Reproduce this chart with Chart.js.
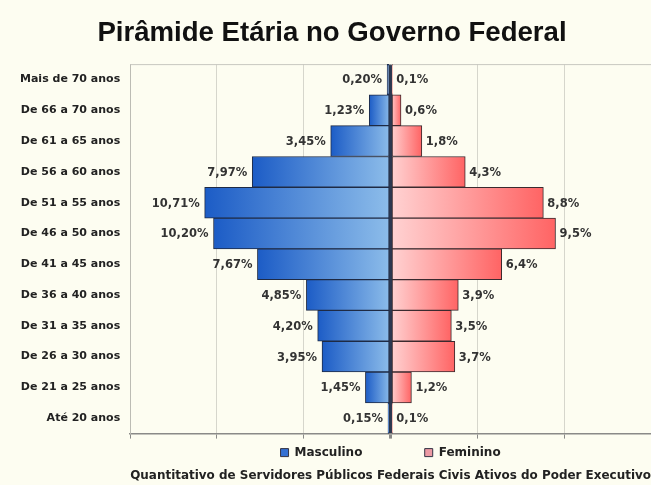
<!DOCTYPE html>
<html>
<head>
<meta charset="utf-8">
<script src="https://cdn.jsdelivr.net/npm/chart.js@4"></script>
<style>
  html, body { margin: 0; padding: 0; background: #fdfdf1; }
  #wrap { width: 651px; height: 485px; }
</style>
</head>
<body>
<div id="wrap"><canvas id="pyramid" width="651" height="485"></canvas></div>
<script>
var faixas = ["Mais de 70 anos", "De 66 a 70 anos", "De 61 a 65 anos", "De 56 a 60 anos",
  "De 51 a 55 anos", "De 46 a 50 anos", "De 41 a 45 anos", "De 36 a 40 anos",
  "De 31 a 35 anos", "De 26 a 30 anos", "De 21 a 25 anos", "Até 20 anos"];
var masculino = [0.20, 1.23, 3.45, 7.97, 10.71, 10.20, 7.67, 4.85, 4.20, 3.95, 1.45, 0.15];
var feminino = [0.1, 0.6, 1.8, 4.3, 8.8, 9.5, 6.4, 3.9, 3.5, 3.7, 1.2, 0.1];
var xTicks = [-15, -10, -5, 0, 5, 10, 15];

var fontName = "'DejaVu Sans', Verdana, sans-serif";
var legendBox = ['#3470d2', '#ec9aa4'];

// gradient per bar: dark at the outer end, light next to the centre
function barFill(outer, inner, flat) {
  return function (ctx) {
    if (ctx.type !== 'data') return flat;
    var xs = ctx.chart.scales.x;
    if (!xs || !isFinite(xs.getPixelForValue(0))) return flat;
    var x0 = xs.getPixelForValue(0);
    var x1 = xs.getPixelForValue(ctx.raw);
    if (Math.abs(x1 - x0) < 1) return flat;
    var g = ctx.chart.ctx.createLinearGradient(x1, 0, x0, 0);
    g.addColorStop(0, outer);
    g.addColorStop(1, inner);
    return g;
  };
}

// frame line on top of the plot
var topFrame = {
  id: 'topFrame',
  beforeDatasetsDraw: function (chart) {
    var a = chart.chartArea, c = chart.ctx;
    c.save();
    c.strokeStyle = '#c8c8c0';
    c.lineWidth = 1;
    c.beginPath();
    c.moveTo(a.left, a.top + 0.5);
    c.lineTo(a.right, a.top + 0.5);
    c.stroke();
    c.restore();
  }
};

// percentage labels at the end of each bar
var valueLabels = {
  id: 'valueLabels',
  afterDatasetsDraw: function (chart) {
    var c = chart.ctx;
    c.save();
    c.font = 'bold 11.5px ' + fontName;
    c.fillStyle = '#333333';
    c.textBaseline = 'middle';
    chart.data.datasets.forEach(function (ds, i) {
      var meta = chart.getDatasetMeta(i);
      meta.data.forEach(function (bar, j) {
        var v = Math.abs(ds.data[j]);
        if (i === 0) {
          c.textAlign = 'right';
          c.fillText(v.toFixed(2).replace('.', ',') + '%', bar.x - 5, bar.y + 1);
        } else {
          c.textAlign = 'left';
          c.fillText(v.toFixed(1).replace('.', ',') + '%', bar.x + 4, bar.y + 1);
        }
      });
    });
    c.restore();
  }
};

new Chart(document.getElementById("pyramid"), {
  type: 'bar',
  data: {
    labels: faixas,
    datasets: [{
      label: "Masculino",
      data: masculino.map(function (v) { return -v; }),
      backgroundColor: barFill('#1c5cc6', '#8dbdea', '#2e6fd0'),
      borderColor: '#1e2a44',
      borderWidth: 1,
      borderSkipped: false,
      barPercentage: 1,
      categoryPercentage: 1
    }, {
      label: "Feminino",
      data: feminino,
      backgroundColor: barFill('#ff6464', '#ffd3d3', '#f4a0a8'),
      borderColor: '#3a2a2e',
      borderWidth: 1,
      borderSkipped: false,
      barPercentage: 1,
      categoryPercentage: 1
    }]
  },
  options: {
    indexAxis: 'y',
    responsive: false,
    animation: false,
    layout: { padding: { left: 10, right: -3, top: 0, bottom: 0 } },
    scales: {
      x: {
        stacked: true,
        min: -15,
        max: 15,
        afterBuildTicks: function (axis) {
          axis.ticks = xTicks.map(function (v) { return { value: v }; });
        },
        ticks: { display: false },
        grid: {
          color: function (ctx) { return ctx.tick && ctx.tick.value === 0 ? '#2c3850' : '#d6d6cc'; },
          lineWidth: function (ctx) { return ctx.tick && ctx.tick.value === 0 ? 3 : 1; },
          tickLength: 5,
          tickColor: '#8a8a88'
        },
        border: { display: true, color: '#8a8a88', width: 1.5 }
      },
      y: {
        stacked: true,
        grid: { display: false, drawTicks: false },
        border: { display: true, color: '#bcbcb4', width: 1 },
        ticks: {
          padding: 10,
          color: '#222222',
          font: { family: fontName, size: 11, weight: 'bold' }
        }
      }
    },
    plugins: {
      title: {
        display: true,
        text: "Pirâmide Etária no Governo Federal",
        color: '#111111',
        font: { family: "'Liberation Sans', Arial, sans-serif", size: 27.6, weight: 'bold' },
        padding: { top: 17, bottom: 14 }
      },
      subtitle: {
        display: true,
        position: 'bottom',
        fullSize: false,
        text: "Quantitativo de Servidores Públicos Federais Civis Ativos do Poder Executivo",
        color: '#222222',
        font: { family: fontName, size: 12, weight: 'bold' },
        padding: { top: 0, bottom: 2 }
      },
      legend: {
        position: 'bottom',
        fullSize: false,
        labels: {
          boxWidth: 8,
          boxHeight: 8,
          padding: 8,
          color: '#222222',
          font: { family: fontName, size: 12, weight: 'bold' },
          generateLabels: function (chart) {
            var items = Chart.defaults.plugins.legend.labels.generateLabels(chart);
            items.forEach(function (it, i) {
              it.fillStyle = legendBox[i];
              it.strokeStyle = '#333344';
              it.lineWidth = 1;
              // wide gap between the two entries, as in the original
              if (i === 0) it.text = it.text + '             ';
            });
            return items;
          }
        }
      },
      tooltip: { enabled: false }
    }
  },
  plugins: [topFrame, valueLabels]
});
</script>
</body>
</html>
